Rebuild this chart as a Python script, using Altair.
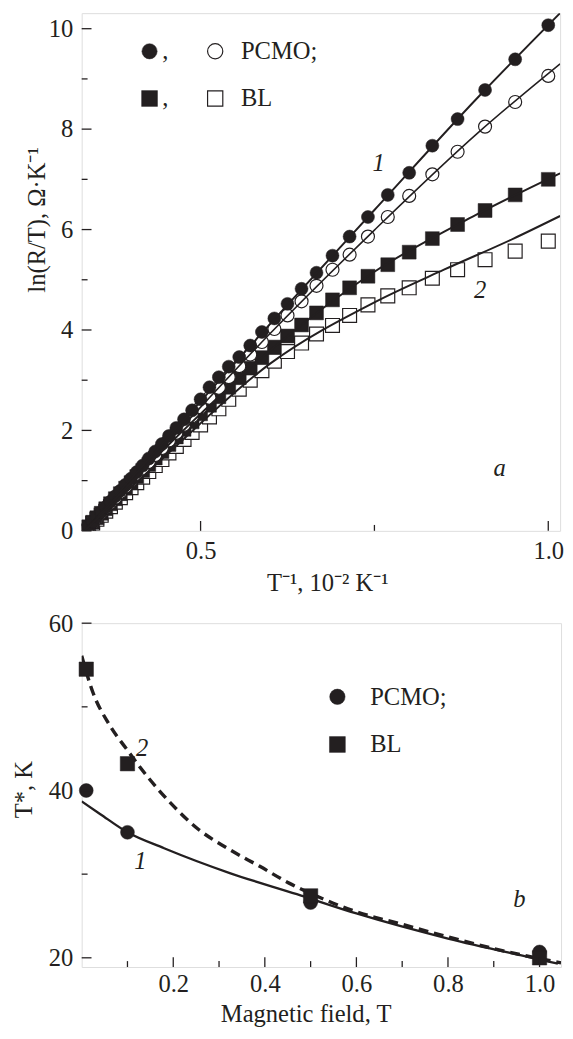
import altair as alt
import pandas as pd

FONT = "Liberation Serif"
INK = "#231f20"
FS = 25

# ---------------- panel a: ln(R/T) vs 1/T ----------------
inv_T = [0.3333, 0.3390, 0.3448, 0.3509, 0.3571, 0.3636, 0.3704, 0.3774, 0.3846, 0.3922,
         0.4000, 0.4082, 0.4167, 0.4255, 0.4348, 0.4444, 0.4545, 0.4651, 0.4762, 0.4878,
         0.5000, 0.5128, 0.5263, 0.5405, 0.5556, 0.5714, 0.5882, 0.6061, 0.6250, 0.6452,
         0.6667, 0.6897, 0.7143, 0.7407, 0.7692, 0.8000, 0.8333, 0.8696, 0.9091, 0.9524, 1.0000]
pcmo_filled = [0.00, 0.09, 0.18, 0.28, 0.37, 0.47, 0.58, 0.69, 0.80, 0.92,
               1.04, 1.17, 1.30, 1.44, 1.58, 1.73, 1.89, 2.05, 2.22, 2.40,
               2.62, 2.86, 3.06, 3.27, 3.46, 3.69, 3.96, 4.23, 4.52, 4.82,
               5.14, 5.48, 5.86, 6.25, 6.69, 7.13, 7.67, 8.20, 8.78, 9.39, 10.07]
pcmo_open = [0.00, 0.09, 0.18, 0.27, 0.36, 0.46, 0.56, 0.66, 0.77, 0.88,
             1.00, 1.12, 1.24, 1.37, 1.51, 1.65, 1.80, 1.95, 2.11, 2.28,
             2.46, 2.65, 2.85, 3.06, 3.28, 3.51, 3.76, 4.02, 4.29, 4.57,
             4.88, 5.20, 5.50, 5.86, 6.25, 6.67, 7.10, 7.55, 8.05, 8.54, 9.06]
bl_filled = [0.00, 0.08, 0.17, 0.26, 0.35, 0.44, 0.54, 0.64, 0.74, 0.85,
             0.96, 1.08, 1.20, 1.32, 1.45, 1.58, 1.72, 1.87, 2.02, 2.17,
             2.33, 2.50, 2.67, 2.86, 3.05, 3.24, 3.45, 3.66, 3.88, 4.10,
             4.34, 4.60, 4.84, 5.07, 5.30, 5.55, 5.82, 6.10, 6.38, 6.69, 7.00]
bl_open = [0.00, 0.07, 0.15, 0.23, 0.31, 0.39, 0.48, 0.57, 0.66, 0.76,
           0.86, 0.96, 1.07, 1.18, 1.30, 1.42, 1.55, 1.68, 1.82, 1.96,
           2.11, 2.27, 2.43, 2.62, 2.82, 3.00, 3.19, 3.38, 3.57, 3.74,
           3.92, 4.09, 4.29, 4.50, 4.68, 4.84, 5.03, 5.20, 5.40, 5.57, 5.77]

fit_x = [0.333, 0.45, 0.60, 0.75, 0.90, 1.017]
fit_pcmo_filled = [0.0, 1.81, 4.12, 6.39, 8.65, 10.31]
fit_pcmo_open = [0.0, 1.72, 3.93, 5.99, 7.94, 9.30]
fit_bl_filled = [0.0, 1.66, 3.59, 5.16, 6.32, 7.12]
fit2_x = [0.333, 0.45, 0.60, 0.75, 0.85, 0.95, 1.017]
fit_bl_open = [0.0, 1.50, 3.33, 4.55, 5.20, 5.82, 6.27]

a_y_major = [0, 2, 4, 6, 8, 10]
a_y_minor = [1, 3, 5, 7, 9]
a_x_major = [0.5, 1.0]
a_x_minor = [0.75]

# ---------------- panel b: T* vs magnetic field ----------------
field = [0.01, 0.1, 0.5, 1.0]
tstar_pcmo = [40.0, 35.0, 26.6, 20.7]
tstar_bl = [54.5, 43.2, 27.4, 20.0]

fitb1_x = [0.0, 0.04, 0.1, 0.18, 0.325, 0.47, 0.6, 0.8, 1.0, 1.04]
fitb1_y = [38.7, 37.2, 35.0, 33.1, 30.1, 27.6, 25.3, 22.3, 19.8, 19.3]
fitb2_x = [0.0, 0.024, 0.06, 0.096, 0.146, 0.196, 0.254, 0.318, 0.39, 0.454, 0.5, 0.6, 0.7, 0.8, 0.9, 1.0, 1.047]
fitb2_y = [56.1, 51.8, 47.9, 45.1, 41.5, 38.4, 35.4, 33.1, 30.9, 28.9, 27.7, 25.5, 24.0, 22.5, 21.1, 19.9, 19.4]

b_y_major = [20, 40, 60]
b_y_minor = [30, 50]
b_x_major = [0.2, 0.4, 0.6, 0.8, 1.0]
b_x_minor = [0.1, 0.3, 0.5, 0.7, 0.9]

W_A, H_A = 487, 527
W_B, H_B = 488, 350

xa = alt.Scale(domain=[0.329, 1.017], nice=False, zero=False)
ya = alt.Scale(domain=[0, 10.31], nice=False, zero=False)
xb = alt.Scale(domain=[0, 1.047], nice=False, zero=False)
yb = alt.Scale(domain=[18.9, 60], nice=False, zero=False)

axis_common = dict(ticks=False, domain=False, grid=False, labelFont=FONT, labelFontSize=FS,
                   labelColor=INK, titleFont=FONT, titleFontSize=FS, titleFontWeight="normal",
                   titleColor=INK, labelFlush=False, labelOverlap=False)

ax_xa = alt.Axis(values=a_x_major, format=".1f", title="T⁻¹, 10⁻² K⁻¹", labelPadding=8,
                 titleX=250, titleY=53, titleAlign="center", titleBaseline="middle", **axis_common)
ax_ya = alt.Axis(values=a_y_major, format="d", title="ln(R/T), Ω·K⁻¹", labelPadding=9,
                 titleX=-46, titleY=210, titleAlign="center", titleBaseline="middle", titleAngle=270,
                 **axis_common)
ax_xb = alt.Axis(values=b_x_major, format=".1f", title="Magnetic field, T", labelPadding=5,
                 titleX=228, titleY=47, titleAlign="center", titleBaseline="middle", **axis_common)
ax_yb = alt.Axis(values=b_y_major, format="d", title="T*, K", labelPadding=9,
                 titleX=-59, titleY=169, titleAlign="center", titleBaseline="middle", titleAngle=270,
                 **axis_common)

PANELS = {"a": (xa, ya, ax_xa, ax_ya), "b": (xb, yb, ax_xb, ax_yb)}


def df(xs, ys):
    return pd.DataFrame({"x": xs, "y": ys})


def enc(p):
    xs, ys, axx, axy = PANELS[p]
    return dict(x=alt.X("x:Q", scale=xs, axis=axx), y=alt.Y("y:Q", scale=ys, axis=axy))


def ticks_layer(p, xmaj, xmin, ymaj, ymin, h):
    xs, ys, axx, axy = PANELS[p]
    layers = []
    for vals, ln in ((ymaj, 10), (ymin, 6)):
        layers.append(alt.Chart(pd.DataFrame({"y": vals})).mark_rule(color=INK, strokeWidth=1.3).encode(
            y=alt.Y("y:Q", scale=ys, axis=axy), x=alt.value(0), x2=alt.value(ln)))
    for vals, ln in ((xmaj, 10), (xmin, 6)):
        layers.append(alt.Chart(pd.DataFrame({"x": vals})).mark_rule(color=INK, strokeWidth=1.3).encode(
            x=alt.X("x:Q", scale=xs, axis=axx), y=alt.value(h), y2=alt.value(h - ln)))
    return layers


def pts(p, xs, ys, shape, fill, size, sw=1.2, clip=False):
    return alt.Chart(df(xs, ys)).mark_point(
        shape=shape, filled=True, fill=fill, stroke=INK, strokeWidth=sw, size=size, opacity=1,
        fillOpacity=1, clip=clip).encode(**enc(p))


def fitline(p, xs, ys, width=2.0, dash=None):
    kw = dict(color=INK, strokeWidth=width, interpolate="monotone", clip=True)
    if dash:
        kw["strokeDash"] = dash
    return alt.Chart(df(xs, ys)).mark_line(**kw).encode(**enc(p))


def texts(p, xs, ys, ts, italic=False, align="center"):
    kw = dict(font=FONT, fontSize=FS, color=INK, align=align, baseline="middle")
    if italic:
        kw["fontStyle"] = "italic"
    return alt.Chart(pd.DataFrame({"x": xs, "y": ys, "t": ts})).mark_text(**kw).encode(
        text="t:N", **enc(p))


# ---- panel a ----
panel_a = alt.layer(
    pts("a", inv_T, bl_open, "square", "white", 200, clip=True),
    pts("a", inv_T, bl_filled, "square", INK, 200, 0.5, clip=True),
    pts("a", inv_T, pcmo_open, "circle", "white", 175, clip=True),
    pts("a", inv_T, pcmo_filled, "circle", INK, 175, 0.5, clip=True),
    fitline("a", fit_x, fit_pcmo_filled),
    fitline("a", fit_x, fit_pcmo_open, 1.6),
    fitline("a", fit_x, fit_bl_filled),
    fitline("a", fit2_x, fit_bl_open),
    texts("a", [0.756, 0.902, 0.930], [7.33, 4.80, 1.25], ["1", "2", "a"], italic=True),
    pts("a", [0.4266], [9.55], "circle", INK, 240, 0.5),
    pts("a", [0.521], [9.55], "circle", "white", 240),
    pts("a", [0.4266], [8.61], "square", INK, 260, 0.5),
    pts("a", [0.521], [8.61], "square", "white", 240),
    texts("a", [0.445, 0.445, 0.558, 0.558], [9.55, 8.61, 9.55, 8.61], [",", ",", "PCMO;", "BL"], align="left"),
    *ticks_layer("a", a_x_major, a_x_minor, a_y_major, a_y_minor, H_A)
).properties(width=W_A, height=H_A)

# ---- panel b ----
panel_b = alt.layer(
    fitline("b", fitb1_x, fitb1_y, 2.4),
    fitline("b", fitb2_x, fitb2_y, 3.5, [10, 6]),
    pts("b", field, tstar_pcmo, "circle", INK, 200, 0.5),
    pts("b", field, tstar_bl, "square", INK, 215, 0.5),
    texts("b", [0.132, 0.128, 0.956], [45.1, 31.5, 27.0], ["2", "1", "b"], italic=True),
    pts("b", [0.5585], [51.2], "circle", INK, 245, 0.5),
    pts("b", [0.5585], [45.5], "square", INK, 260, 0.5),
    texts("b", [0.630, 0.630], [51.2, 45.5], ["PCMO;", "BL"], align="left"),
    *ticks_layer("b", b_x_major, b_x_minor, b_y_major, b_y_minor, H_B)
).properties(width=W_B, height=H_B)

chart = alt.vconcat(panel_a, panel_b, spacing=14).properties(
    padding={"left": 3, "top": -5, "right": 0, "bottom": 0}
).configure_view(stroke=INK, strokeWidth=1.5).configure(background="white")

chart.save("out.html", embed_options={"renderer": "svg", "actions": False})
